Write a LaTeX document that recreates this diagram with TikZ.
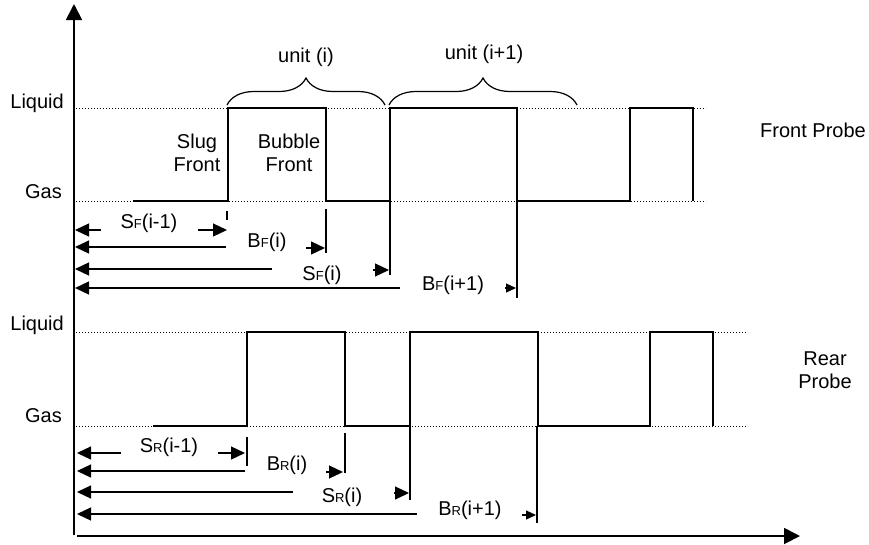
\documentclass[tikz,border=0pt]{standalone}
\usepackage{fontspec}
\setmainfont{Liberation Sans}
\usetikzlibrary{arrows.meta,decorations.pathreplacing}
\newcommand\subl[1]{{\fontsize{13}{13}\selectfont #1}}
\begin{document}
\begin{tikzpicture}[x=1pt,y=-1pt,
  sig/.style={line width=2pt, line join=miter},
  lvl/.style={dotted, line width=1pt},
  dim/.style={line width=1.2pt},
  markline/.style={line width=1.4pt},
  tipend/.style={-{Triangle[length=14pt,width=13pt]}},
  smalltip/.style={-{Triangle[length=10pt,width=9pt]}},
  axis/.style={line width=1.8pt, -{Triangle[length=16pt,width=16pt]}},
  lbl/.style={font=\fontsize{20}{23}\selectfont, inner sep=0pt, align=center},
  brc/.style={line width=1.2pt, decorate, decoration={brace, amplitude=27pt}}
  ]
\useasboundingbox (0,0) rectangle (869,544);
% axes
\coordinate (ybot) at (74,535);
\coordinate (ytop) at (74,4);
\coordinate (xl) at (77,536);
\coordinate (xr) at (800,536);
\draw[axis] (ybot) -- (ytop);
\draw[axis] (xl) -- (xr);
% front probe levels
\draw[lvl] (76,108) -- (706,108);
\draw[lvl] (76,201) -- (706,201);
\draw[sig] (133,201) -- (228,201) -- (228,108) -- (326,108) -- (326,201) -- (390,201) -- (390,108) -- (517,108) -- (517,201) -- (630,201) -- (630,108) -- (693,108) -- (693,201);
% rear probe levels
\draw[lvl] (76,332) -- (748,332);
\draw[lvl] (76,426) -- (748,426);
\draw[sig] (153,426) -- (247,426) -- (247,332) -- (345,332) -- (345,426) -- (410,426) -- (410,332) -- (538,332) -- (538,426) -- (650,426) -- (650,332) -- (713,332) -- (713,426);
% axis labels
\node[lbl, anchor=east] (liqF) at (64,103) {Liquid};
\node[lbl, anchor=east] (gasF) at (62,192) {Gas};
\node[lbl, anchor=east] (liqR) at (64,325) {Liquid};
\node[lbl, anchor=east] (gasR) at (62,416) {Gas};
\node[lbl] (fp) at (813,130) {Front Probe};
\node[lbl] (rp) at (825,370) {Rear\\Probe};
\node[lbl] (slug) at (197,153) {Slug\\Front};
\node[lbl] (bub) at (289,153) {Bubble\\Front};
% braces
\draw[brc] (227,105) -- (385,105);
\draw[brc] (389,105) -- (577,105);
\node[lbl] (ui) at (306,57) {unit (i)};
\node[lbl] (ui1) at (484,54) {unit (i+1)};
% front markers
\draw[markline] (227,211) -- (227,220);
\draw[markline] (326,209) -- (326,253);
\draw[markline] (390,201) -- (390,275);
\draw[markline] (517,201) -- (517,298);
% rear markers
\draw[markline] (247,437) -- (247,466);
\draw[markline] (345,433) -- (345,473);
\draw[markline] (410,426) -- (410,500);
\draw[markline] (537,426) -- (537,523);
% front dimension arrows
\draw[dim, tipend] (101,230) -- (75,230);
\node[lbl] (sf0) at (149,223) {S\subl{F}(i-1)};
\draw[dim, tipend] (198,230) -- (227,230);
\draw[dim, tipend] (226,247) -- (75,247);
\node[lbl] (bf1) at (267,242) {B\subl{F}(i)};
\draw[dim, tipend] (306,248) -- (325,248);
\draw[dim, tipend] (272,269) -- (75,269);
\node[lbl] (sf1) at (322,275) {S\subl{F}(i)};
\draw[dim, tipend] (373,270) -- (389,270);
\draw[dim, tipend] (400,288) -- (75,288);
\node[lbl] (bf2) at (453,285) {B\subl{F}(i+1)};
\draw[dim, smalltip] (505,288) -- (516,288);
% rear dimension arrows
\draw[dim, tipend] (121,453) -- (77,453);
\node[lbl] (sr0) at (169,447) {S\subl{R}(i-1)};
\draw[dim, tipend] (218,453) -- (245,453);
\draw[dim, tipend] (245,471) -- (77,471);
\node[lbl] (br1) at (287,465) {B\subl{R}(i)};
\draw[dim, tipend] (326,472) -- (343,472);
\draw[dim, tipend] (293,492) -- (77,492);
\node[lbl] (sr1) at (342,497) {S\subl{R}(i)};
\draw[dim, tipend] (394,493) -- (409,493);
\draw[dim, tipend] (417,514) -- (77,514);
\node[lbl] (br2) at (470,510) {B\subl{R}(i+1)};
\draw[dim, smalltip] (522,515) -- (536,515);
\end{tikzpicture}
\end{document}
